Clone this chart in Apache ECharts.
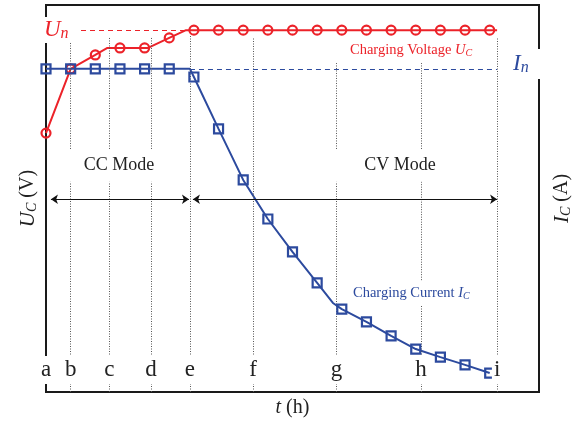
<!DOCTYPE html>
<html><head><meta charset="utf-8">
<script src="https://cdn.jsdelivr.net/npm/echarts@6/dist/echarts.min.js"></script>
<style>html,body{margin:0;padding:0;background:#fff}#c{width:584px;height:427px}</style>
</head><body><div id="c"></div>
<script>
// ---- data (time in schematic units, levels in % of full scale) ----
const tickNames = ['a','b','c','d','e','f','g','h','i'];
const tickTimes = [0, 1.0, 2.57, 4.26, 5.84, 8.4, 11.79, 15.21, 18.3];
const sampleTimes = [0,1,2,3,4,5,6,7,8,9,10,11,12,13,14,15,16,17,18];
const voltageSamples = [66.9,83.5,87.1,88.9,88.9,91.5,93.5,93.5,93.5,93.5,93.5,93.5,93.5,93.5,93.5,93.5,93.5,93.5,93.5];
const currentSamples = [83.5,83.5,83.5,83.5,83.5,83.5,81.4,68.0,54.8,44.7,36.2,28.2,21.4,18.1,14.5,11.1,9.0,7.0,4.9];
const voltageCurveT = [0,1,2,2.49,4.14,5,5.68,18.3];
const voltageCurveV = [66.9,83.5,87.1,88.9,88.9,91.5,93.5,93.5];
const currentCurveT = [0,5.84,6,7,8,9,10,11,11.64,12,13,14,15,16,17,18];
const currentCurveV = [83.5,83.5,81.4,68.0,54.8,44.7,36.2,28.2,23.0,21.4,18.1,14.5,11.1,9.0,7.0,4.9];
const ratedVoltage = 93.5, ratedVoltageFrom = 1.42, ratedVoltageTo = 5.84;
const ratedCurrent = 83.5, ratedCurrentFrom = 5.84, ratedCurrentTo = 18.3;
// guide line segments (b..i) as [from, to] level ranges
const guideSegments = [
  [[0,54.3],[62.8,90.4]],
  [[0,54.3],[62.8,91.7]],
  [[0,54.3],[62.8,91.7]],
  [[0,92.2]],
  [[0,91.7]],
  [[0,54.3],[62.8,85.0]],
  [[0,22.5],[28.9,54.3],[62.8,85.0]],
  [[0,91.5]]
];
const modeArrowLevel = 49.8;
const ccSpan = [0.2, 5.8];
const cvSpan = [5.96, 18.3];

const RED = '#ec2229', BLUE = '#2c4a9e', SERIF = "'Liberation Serif','DejaVu Serif',serif";
const NB = '\u00a0';

const guideData = [];
guideSegments.forEach((segs, k) => {
  const t = tickTimes[k + 1];
  segs.forEach(s => guideData.push([{coord:[t, s[0]]}, {coord:[t, s[1]]}]));
});

const nameRich = {
  i: {fontSize: 21, fontStyle: 'italic', fontFamily: SERIF, color: '#222', lineHeight: 22},
  s: {fontSize: 14, fontStyle: 'italic', fontFamily: SERIF, color: '#222', lineHeight: 16, verticalAlign: 'bottom'},
  r: {fontSize: 20, fontFamily: SERIF, color: '#222', lineHeight: 22}
};

const chart = echarts.init(document.getElementById('c'), null, {renderer:'canvas'});
chart.setOption({
  animation: false,
  grid: {left: 46, right: 45, top: 5, bottom: 35, show: true, borderColor: '#1a1a1a', borderWidth: 2, backgroundColor: 'transparent'},
  xAxis: {
    type: 'value', min: 0, max: 20, z: 10,
    axisLine: {show: false}, axisTick: {show: false}, splitLine: {show: false},
    axisLabel: {
      inside: true, margin: 8, customValues: tickTimes,
      formatter: v => tickNames[tickTimes.indexOf(v)],
      fontSize: 23, fontFamily: SERIF, color: '#222', lineHeight: 24,
      backgroundColor: '#fff', padding: [2, 2, 2, 2]
    },
    name: '{i|t}{r|' + NB + '(h)}', nameLocation: 'middle', nameGap: 6,
    nameTextStyle: {rich: {
      i: {fontSize: 20, fontStyle: 'italic', fontFamily: SERIF, color: '#222', lineHeight: 20},
      r: {fontSize: 20, fontFamily: SERIF, color: '#222', lineHeight: 20}
    }}
  },
  yAxis: [
    {type: 'value', min: 0, max: 100, axisLine: {show: false}, axisTick: {show: false}, axisLabel: {show: false}, splitLine: {show: false},
     name: '{i|U}{s|C}{r|' + NB + '(V)}', nameLocation: 'middle', nameRotate: 90, nameGap: 7,
     nameTextStyle: {rich: nameRich}},
    {type: 'value', min: 0, max: 100, position: 'right', axisLine: {show: false}, axisTick: {show: false}, axisLabel: {show: false}, splitLine: {show: false},
     name: '{i|I}{s|C}{r|' + NB + '(A)}', nameLocation: 'middle', nameRotate: 90, nameGap: 12,
     nameTextStyle: {rich: nameRich}}
  ],
  series: [
    {name: 'guides', type: 'line', data: [], z: 1, silent: true,
     markLine: {silent: true, symbol: ['none','none'], label: {show: false}, animation: false,
       lineStyle: {color: '#555', width: 1, type: [1, 1.5]}, emphasis: {disabled: true},
       data: guideData}},
    {name: 'modes', type: 'line', data: [], z: 2, silent: true,
     markLine: {silent: true, symbol: ['arrow','arrow'], symbolSize: 7, label: {show: false}, animation: false,
       lineStyle: {color: '#111', width: 1, type: 'solid'}, emphasis: {disabled: true},
       data: [
         [{coord:[ccSpan[0], modeArrowLevel]}, {coord:[ccSpan[1], modeArrowLevel]}],
         [{coord:[cvSpan[0], modeArrowLevel]}, {coord:[cvSpan[1], modeArrowLevel]}]
       ]}},
    {name: 'rated', type: 'line', data: [], z: 2, silent: true,
     markLine: {silent: true, symbol: ['none','none'], label: {show: false}, animation: false, emphasis: {disabled: true},
       data: [
         [{coord:[ratedVoltageFrom, ratedVoltage], lineStyle: {color: RED, width: 1, type: [5, 4]}}, {coord:[ratedVoltageTo, ratedVoltage]}],
         [{coord:[ratedCurrentFrom, ratedCurrent], lineStyle: {color: BLUE, width: 1, type: [5, 4]}}, {coord:[ratedCurrentTo, ratedCurrent]}]
       ]}},
    {name: 'Charging Voltage', type: 'line', yAxisIndex: 0, z: 4, showSymbol: false, silent: true,
     lineStyle: {color: RED, width: 2}, itemStyle: {color: RED},
     data: voltageCurveT.map((t, i) => [t, voltageCurveV[i]])},
    {name: 'Voltage samples', type: 'scatter', yAxisIndex: 0, z: 5, silent: true,
     symbol: 'circle', symbolSize: 9,
     itemStyle: {color: 'rgba(0,0,0,0)', borderColor: RED, borderWidth: 2.2, opacity: 1},
     data: sampleTimes.map((t, i) => [t, voltageSamples[i]])},
    {name: 'Charging Current', type: 'line', yAxisIndex: 1, z: 4, showSymbol: false, silent: true,
     lineStyle: {color: BLUE, width: 2}, itemStyle: {color: BLUE},
     data: currentCurveT.map((t, i) => [t, currentCurveV[i]])},
    {name: 'Current samples', type: 'scatter', yAxisIndex: 1, z: 5, silent: true,
     symbol: 'rect', symbolSize: 9,
     itemStyle: {color: 'rgba(0,0,0,0)', borderColor: BLUE, borderWidth: 2.2, opacity: 1},
     data: sampleTimes.map((t, i) => [t, currentSamples[i]])}
  ],
  graphic: [
    {type: 'text', z: 100, x: 43, y: 30, style: {
      text: '{u|U}{n|n}', align: 'left', verticalAlign: 'middle', textAlign: 'left', textVerticalAlign: 'middle',
      backgroundColor: '#fff', padding: [1, 2, 1, 1],
      rich: {u: {fontSize: 23, fontStyle: 'italic', fontFamily: SERIF, fill: RED, lineHeight: 24},
             n: {fontSize: 16, fontStyle: 'italic', fontFamily: SERIF, fill: RED, lineHeight: 17, verticalAlign: 'bottom'}}}},
    {type: 'text', z: 100, x: 509, y: 64, style: {
      text: '{u|I}{n|n}', align: 'left', verticalAlign: 'middle', textAlign: 'left', textVerticalAlign: 'middle',
      backgroundColor: '#fff', padding: [3, 14, 3, 4],
      rich: {u: {fontSize: 23, fontStyle: 'italic', fontFamily: SERIF, fill: BLUE, lineHeight: 24},
             n: {fontSize: 16, fontStyle: 'italic', fontFamily: SERIF, fill: BLUE, lineHeight: 17, verticalAlign: 'bottom'}}}},
    {type: 'text', z: 100, x: 350, y: 50, style: {
      text: '{t|Charging Voltage }{u|U}{s|C}', align: 'left', verticalAlign: 'middle', textAlign: 'left', textVerticalAlign: 'middle',
      rich: {t: {fontSize: 14.5, fontFamily: SERIF, fill: RED, lineHeight: 16},
             u: {fontSize: 14.5, fontStyle: 'italic', fontFamily: SERIF, fill: RED, lineHeight: 16},
             s: {fontSize: 10, fontStyle: 'italic', fontFamily: SERIF, fill: RED, lineHeight: 12, verticalAlign: 'bottom'}}}},
    {type: 'text', z: 100, x: 353, y: 293, style: {
      text: '{t|Charging Current }{u|I}{s|C}', align: 'left', verticalAlign: 'middle', textAlign: 'left', textVerticalAlign: 'middle',
      rich: {t: {fontSize: 14.5, fontFamily: SERIF, fill: BLUE, lineHeight: 16},
             u: {fontSize: 14.5, fontStyle: 'italic', fontFamily: SERIF, fill: BLUE, lineHeight: 16},
             s: {fontSize: 10, fontStyle: 'italic', fontFamily: SERIF, fill: BLUE, lineHeight: 12, verticalAlign: 'bottom'}}}},
    {type: 'text', z: 100, x: 119, y: 165, style: {
      text: 'CC Mode', align: 'center', verticalAlign: 'middle', textAlign: 'center', textVerticalAlign: 'middle',
      fontSize: 18, fontFamily: SERIF, fill: '#222'}},
    {type: 'text', z: 100, x: 400, y: 165, style: {
      text: 'CV Mode', align: 'center', verticalAlign: 'middle', textAlign: 'center', textVerticalAlign: 'middle',
      fontSize: 18, fontFamily: SERIF, fill: '#222'}}
  ]
});
</script></body></html>
